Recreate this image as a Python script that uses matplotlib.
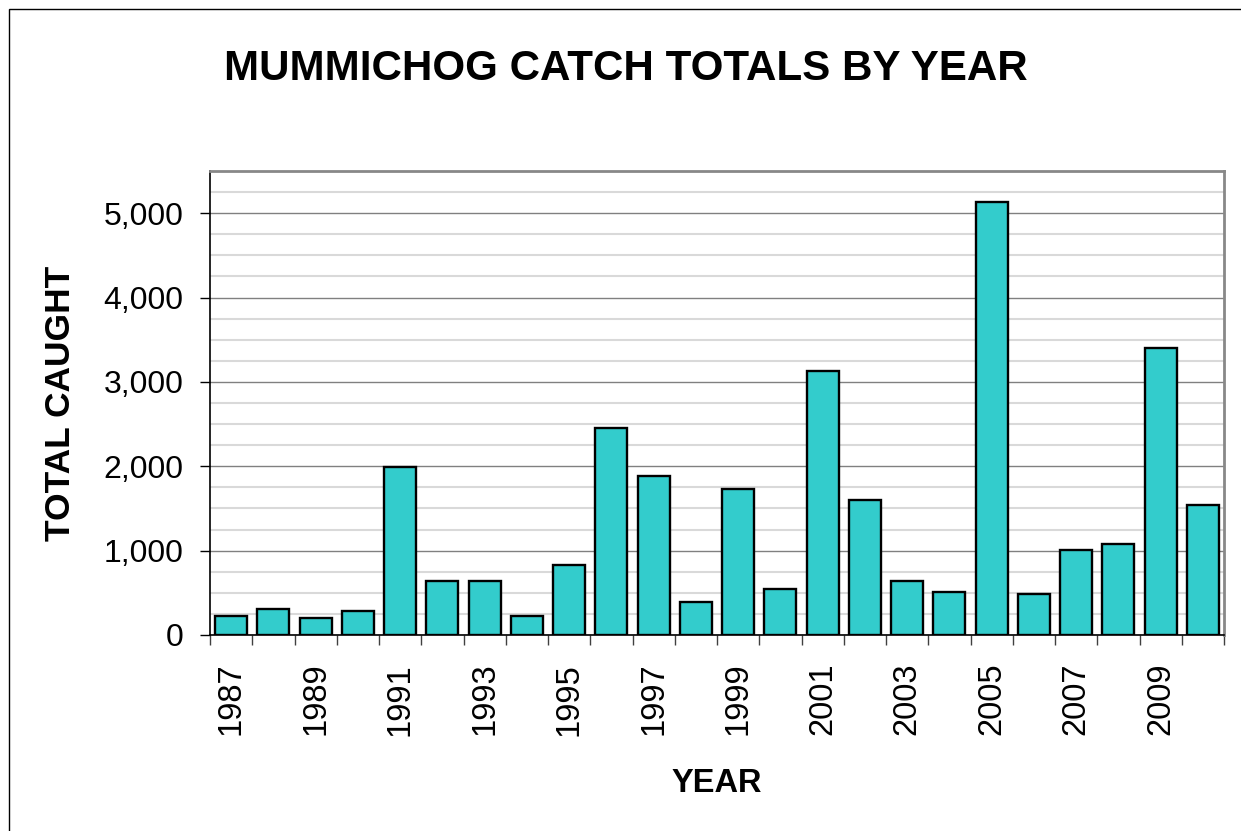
"""
Mummichog catch totals by year - bar chart.
"""

import matplotlib
matplotlib.use("Agg")
import matplotlib.pyplot as plt
import numpy as np
from matplotlib.patches import Rectangle
from matplotlib.ticker import FuncFormatter, MultipleLocator

plt.rcParams["font.family"] = ["Liberation Sans", "DejaVu Sans"]

# Data
years = list(range(1987, 2011))
catch_totals = [230, 310, 200, 280, 1990, 645, 645, 230, 825, 2450,
                1880, 390, 1730, 545, 3125, 1600, 645, 512, 5130, 490,
                1005, 1080, 3405, 1545]
year_labels = [str(y) if (y - 1987) % 2 == 0 else "" for y in years]

BAR_COLOR = "#33CCCC"
W, H = 1241, 831

fig = plt.figure(figsize=(W / 100, H / 100), dpi=100)
ax = fig.add_axes([210 / W, 1 - 635 / H, (1224 - 210) / W, (635 - 171) / H])

# outer chart frame (only left and top visible in the crop)
fig.patches.append(Rectangle((9 / W, -0.5), 2.0, 1.5 - 9 / H,
                             transform=fig.transFigure, fill=False,
                             edgecolor="black", linewidth=1.0))

x = np.arange(len(years))
ax.bar(x, catch_totals, width=0.76, color=BAR_COLOR, edgecolor="black",
       linewidth=1.7, zorder=3)

ax.set_xlim(-0.5, len(years) - 0.5)
ax.set_ylim(0, 5500)

# y axis
ax.yaxis.set_major_locator(MultipleLocator(1000))
ax.yaxis.set_minor_locator(MultipleLocator(250))
ax.yaxis.set_major_formatter(FuncFormatter(lambda v, p: f"{int(v):,}"))
ax.tick_params(axis="y", which="major", direction="out", length=7,
               width=1, labelsize=23, pad=12)
ax.tick_params(axis="y", which="minor", length=0)
ax.grid(axis="y", which="minor", color="#d9d9d9", linewidth=1.5, zorder=0)
ax.grid(axis="y", which="major", color="#808080", linewidth=1.0, zorder=1)

# x axis: ticks between categories, labels at bar centres
ax.set_xticks(np.arange(len(years) + 1) - 0.5)
ax.set_xticklabels([])
ax.set_xticks(x, minor=True)
ax.set_xticklabels(year_labels, minor=True, rotation=90, fontsize=23.5)
ax.tick_params(axis="x", which="major", direction="out", length=7,
               width=1, color="#404040")
ax.tick_params(axis="x", which="minor", length=0, pad=20)

for side in ["top", "right"]:
    ax.spines[side].set_color("#888888")
    ax.spines[side].set_linewidth(2)
for side in ["left", "bottom"]:
    ax.spines[side].set_color("black")
    ax.spines[side].set_linewidth(1.2)

fig.text(626 / W, 1 - 80 / H, "MUMMICHOG CATCH TOTALS BY YEAR",
         ha="center", va="baseline", fontsize=30.3, fontweight="bold")
fig.text(717 / W, 1 - 792 / H, "YEAR", ha="center", va="baseline",
         fontsize=23.5, fontweight="bold")
fig.text(60 / W, 1 - 403 / H, "TOTAL CAUGHT", ha="center", va="center",
         rotation=90, fontsize=25.5, fontweight="bold")

fig.savefig("out.png", dpi=100)
plt.close(fig)
